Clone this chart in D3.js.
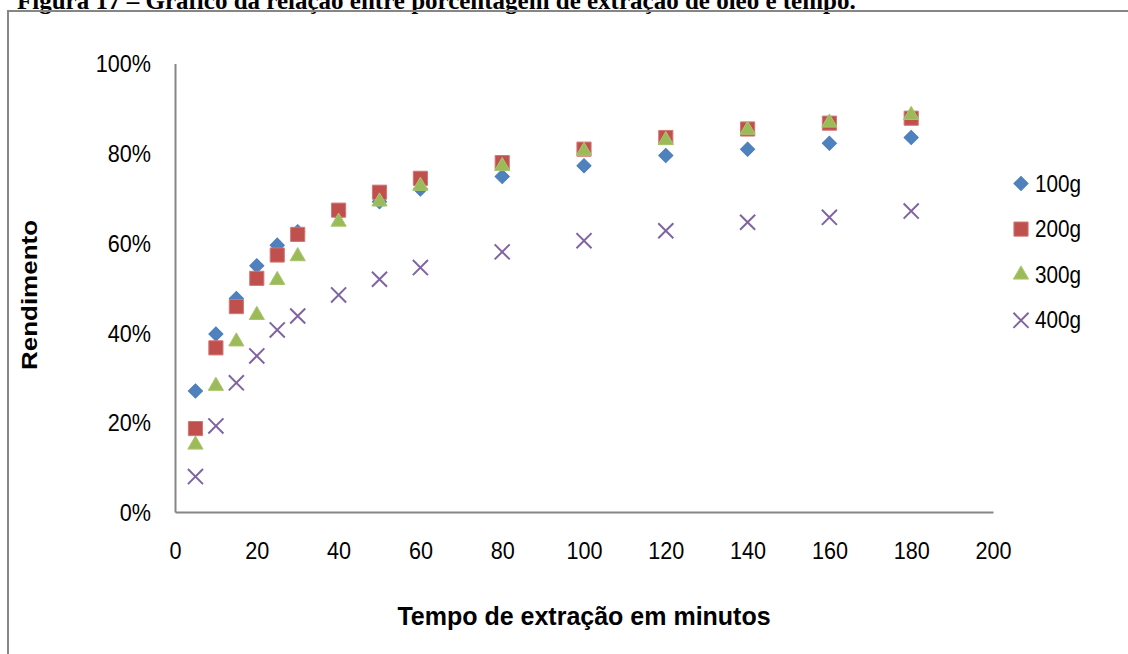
<!DOCTYPE html>
<html>
<head>
<meta charset="utf-8">
<script src="https://cdn.jsdelivr.net/npm/d3@7"></script>
<style>
  html, body { margin: 0; padding: 0; background: #fff; }
  svg { display: block; }
</style>
</head>
<body>
<svg id="chart" width="1128" height="654"></svg>
<script>
// Extraction time (minutes) and oil yield per sample mass
const tempos = [5, 10, 15, 20, 25, 30, 40, 50, 60, 80, 100, 120, 140, 160, 180];
const serie100g = [0.270, 0.397, 0.476, 0.549, 0.595, 0.625, 0.665, 0.692, 0.720, 0.748, 0.772, 0.795, 0.809, 0.822, 0.835];
const serie200g = [0.186, 0.366, 0.458, 0.521, 0.573, 0.619, 0.673, 0.713, 0.744, 0.779, 0.809, 0.835, 0.854, 0.867, 0.878];
const serie300g = [0.150, 0.281, 0.380, 0.439, 0.517, 0.570, 0.647, 0.692, 0.727, 0.771, 0.805, 0.829, 0.852, 0.868, 0.885];
const serie400g = [0.079, 0.192, 0.288, 0.348, 0.406, 0.437, 0.484, 0.519, 0.545, 0.580, 0.605, 0.627, 0.646, 0.657, 0.671];
const nomesSeries = ["100g", "200g", "300g", "400g"];
const xTicks = [0, 20, 40, 60, 80, 100, 120, 140, 160, 180, 200];
const yTicks = [0, 0.2, 0.4, 0.6, 0.8, 1.0];

const svg = d3.select("#chart");

const x = d3.scaleLinear().domain([0, 200]).range([175, 993]);
const y = d3.scaleLinear().domain([0, 1]).range([512, 63.5]);

const sans = "'Liberation Sans', Arial, sans-serif";
const narrow = 0.9; // horizontal squeeze for the condensed label face

// Caption above the chart frame
svg.append("text")
  .attr("x", 17).attr("y", 9)
  .attr("font-family", "'Liberation Serif', 'Times New Roman', serif")
  .attr("font-weight", "bold")
  .attr("font-size", 25)
  .attr("fill", "#000")
  .text("Figura 17 – Gráfico da relação entre porcentagem de extração de óleo e tempo.");

// Chart frame
svg.append("rect")
  .attr("x", 8).attr("y", 11)
  .attr("width", 1140).attr("height", 660)
  .attr("fill", "none")
  .attr("stroke", "#868686")
  .attr("stroke-width", 2);

// Axes
const xAxis = d3.axisBottom(x).tickValues(xTicks).tickSize(0).tickFormat(d3.format("d"));
const yAxis = d3.axisLeft(y).tickValues(yTicks).tickSize(0).tickFormat(d3.format(".0%"));

const gx = svg.append("g").attr("transform", `translate(0,${y(0)})`).call(xAxis);
const gy = svg.append("g").attr("transform", `translate(${x(0)},0)`).call(yAxis);

[gx, gy].forEach(g => {
  g.select(".domain").attr("stroke", "#868686").attr("stroke-width", 2);
  g.selectAll("text")
    .attr("font-family", sans)
    .attr("font-size", 24)
    .attr("fill", "#000")
    .attr("transform", `scale(${narrow},1)`);
});
gx.selectAll("text").attr("x", 0).attr("y", 47).attr("dy", null);
gy.selectAll("text").attr("x", -24 / narrow).attr("dy", "0.35em");

// Axis titles
svg.append("text")
  .attr("x", 584).attr("y", 625)
  .attr("text-anchor", "middle")
  .attr("font-family", sans)
  .attr("font-weight", "bold")
  .attr("font-size", 25)
  .text("Tempo de extração em minutos");

svg.append("text")
  .attr("transform", "translate(37,295) rotate(-90) scale(1,0.82)")
  .attr("text-anchor", "middle")
  .attr("font-family", sans)
  .attr("font-weight", "bold")
  .attr("font-size", 26)
  .text("Rendimento");

// Marker styles per series
const estilos = [
  { nome: nomesSeries[0], valores: serie100g, tipo: d3.symbolSquare, tamanho: 100, rot: 45, fill: "#4F81BD", stroke: "#4A7EBB" },
  { nome: nomesSeries[1], valores: serie200g, tipo: d3.symbolSquare, tamanho: 200, rot: 0, fill: "#C0504D", stroke: "#D27673" },
  { nome: nomesSeries[2], valores: serie300g, tipo: d3.symbolTriangle, tamanho: 100, rot: 0, fill: "#9BBB59", stroke: "#A9C66E" },
  { nome: nomesSeries[3], valores: serie400g, tipo: d3.symbolX, tamanho: 150, rot: 0, fill: "none", stroke: "#8064A2" }
];

function desenhaMarcador(sel, s) {
  const path = d3.symbol().type(s.tipo).size(s.tamanho)();
  const p = sel.append("path").attr("d", path);
  if (s.tipo === d3.symbolX) {
    p.attr("fill", "none").attr("stroke", s.stroke).attr("stroke-width", 2);
  } else {
    p.attr("fill", s.fill).attr("stroke", s.stroke).attr("stroke-width", 1);
  }
  return p;
}

const plot = svg.append("g");
estilos.forEach(s => {
  const g = plot.append("g");
  tempos.forEach((t, i) => {
    const m = g.append("g")
      .attr("transform", `translate(${x(t)},${y(s.valores[i])}) rotate(${s.rot})`);
    desenhaMarcador(m, s);
  });
});

// Legend
const legenda = svg.append("g");
estilos.forEach((s, i) => {
  const ly = 183.5 + i * 45.6;
  const m = legenda.append("g").attr("transform", `translate(1021,${ly}) rotate(${s.rot})`);
  desenhaMarcador(m, s);
  legenda.append("text")
    .attr("transform", `translate(1035,${ly}) scale(${narrow},1)`)
    .attr("dy", "0.35em")
    .attr("font-family", sans)
    .attr("font-size", 23)
    .attr("fill", "#000")
    .text(s.nome);
});
</script>
</body>
</html>
